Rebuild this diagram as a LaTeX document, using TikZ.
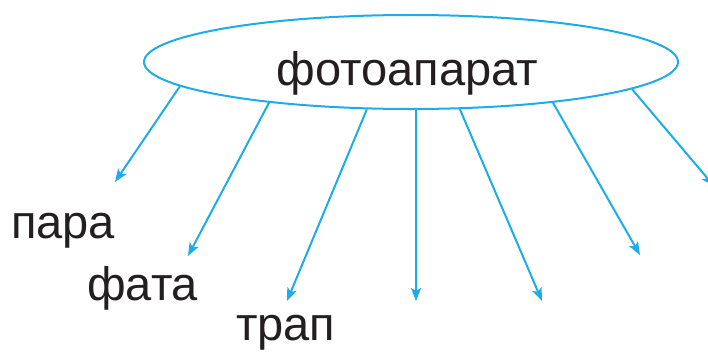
\documentclass[tikz,border=0pt]{standalone}
\usepackage{fontspec}
\setmainfont{Liberation Sans}
\usetikzlibrary{arrows.meta,shapes.geometric}
\definecolor{linecyan}{RGB}{30,172,232}
\definecolor{textgray}{RGB}{35,31,32}
\tikzset{
  oval/.style={draw=linecyan, line width=2pt, ellipse, inner sep=0pt,
    minimum width=534pt, minimum height=94pt},
  word/.style={text=textgray, inner sep=0pt, anchor=base west,
    font=\fontsize{47}{56}\selectfont},
  branch/.style={draw=linecyan, line width=2pt,
    -{Stealth[length=13pt,width=10pt,inset=3pt]}}
}
\begin{document}
\begin{tikzpicture}[x=1pt,y=-1pt]
\useasboundingbox (0,0) rectangle (708,361);
\node[oval] (e) at (411,62) {};
\node[word, anchor=base] (title) at (407.5,85) {фотоапарат};
\node[word] (w1) at (11,238) {пара};
\node[word] (w2) at (87,300) {фата};
\node[word] (w3) at (236,340) {трап};
\coordinate (t1) at (115,182);
\coordinate (t2) at (188,256);
\coordinate (t3) at (287,301);
\coordinate (t4) at (416,301);
\coordinate (t5) at (542,301);
\coordinate (t6) at (640,255);
\coordinate (t7) at (714,186);
\draw[branch] (e.186.7) -- (t1);
\draw[branch] (e.196.3) -- (t2);
\draw[branch] (e.227.2) -- (t3);
\draw[branch] (e.276.1) -- (t4);
\draw[branch] (e.316.7) -- (t5);
\draw[branch] (e.344.9) -- (t6);
\draw[branch] (e.353.7) -- (t7);
\end{tikzpicture}
\end{document}
